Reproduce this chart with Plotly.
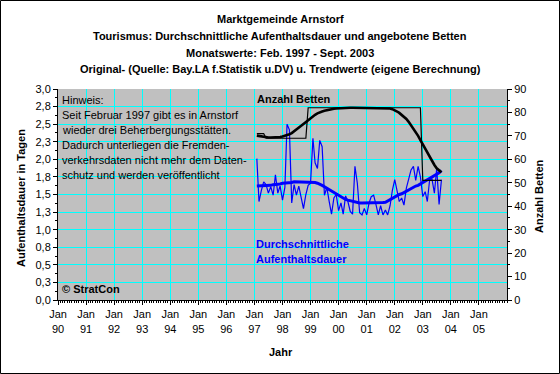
import pandas as pd
import plotly.graph_objects as go

# ---- data (monthly, Feb 1997 .. Sep 2003) ----
months = pd.date_range("1997-02-01", "2003-09-01", freq="MS")
year_ticks = pd.date_range("1990-01-01", "2005-01-01", freq="YS")

dauer_original = [
    2.01, 1.40, 1.56, 1.68, 1.64, 1.52, 1.61, 1.49, 1.78, 1.52,
    1.62, 1.42, 1.60, 2.50, 2.42, 1.38, 1.64, 1.49, 1.62, 1.45,
    1.30, 1.50, 1.63, 1.66, 2.30, 1.95, 1.87, 2.27, 2.18, 1.49,
    1.60, 1.40, 1.22, 1.45, 1.50, 1.27, 1.38, 1.22, 1.48, 1.40,
    1.26, 1.22, 1.90, 1.66, 1.24, 1.21, 1.30, 1.21, 1.38, 1.47,
    1.49, 1.36, 1.21, 1.34, 1.21, 1.28, 1.21, 1.34, 1.56, 1.71,
    1.56, 1.40, 1.45, 1.35, 1.59, 1.72, 1.85, 1.90, 1.70, 1.90,
    1.75, 1.47, 1.54, 1.40, 1.72, 1.72, 1.52, 1.87, 1.36, 1.71,
]
dauer_trend = [
    1.62, 1.62, 1.62, 1.62, 1.63, 1.63, 1.63, 1.64, 1.64, 1.65,
    1.65, 1.66, 1.66, 1.67, 1.67, 1.67, 1.68, 1.68, 1.68, 1.68,
    1.68, 1.68, 1.68, 1.68, 1.67, 1.67, 1.66, 1.65, 1.63, 1.61,
    1.59, 1.57, 1.55, 1.52, 1.50, 1.48, 1.46, 1.44, 1.43, 1.42,
    1.41, 1.40, 1.39, 1.39, 1.38, 1.38, 1.38, 1.38, 1.375, 1.375,
    1.375, 1.375, 1.375, 1.38, 1.385, 1.39, 1.41, 1.43, 1.45, 1.47,
    1.48, 1.50, 1.51, 1.53, 1.54, 1.56, 1.58, 1.60, 1.62, 1.63,
    1.65, 1.67, 1.69, 1.71, 1.72, 1.74, 1.76, 1.78, 1.81, 1.84,
]
betten_original = (
    [71] * 4 + [69] * 18 + [82] * 49 + [51] * 9
)
betten_trend = [
    70.1, 69.9, 69.7, 69.5, 69.4, 69.3, 69.3, 69.3, 69.3, 69.4,
    69.5, 69.7, 70.0, 70.3, 70.7, 71.2, 71.9, 72.7, 73.5, 74.3,
    75.1, 75.9, 76.8, 77.7, 78.4, 79.0, 79.6, 80.1, 80.4, 80.7,
    81.0, 81.2, 81.4, 81.6, 81.7, 81.8, 81.9, 82.0, 82.0, 82.0,
    82.0, 82.0, 82.0, 82.0, 82.0, 82.0, 82.0, 82.0, 82.0, 82.0,
    82.0, 82.0, 82.0, 82.0, 82.0, 82.0, 81.9, 81.7, 81.4, 81.0,
    80.4, 79.8, 79.0, 78.1, 77.2, 76.0, 74.6, 73.0, 71.4, 70.0,
    68.2, 66.4, 64.6, 62.8, 60.8, 59.0, 57.6, 56.2, 55.3, 54.5,
]

title_lines = [
    "Marktgemeinde Arnstorf",
    "Tourismus: Durchschnittliche Aufenthaltsdauer und angebotene Betten",
    "Monatswerte: Feb. 1997 - Sept. 2003",
    "Original- (Quelle: Bay.LA f.Statistik u.DV) u. Trendwerte (eigene Berechnung)",
]
hinweis_lines = [
    "Hinweis:",
    "Seit Februar 1997 gibt es in Arnstorf",
    "wieder drei Beherbergungsstätten.",
    "Dadurch unterliegen die Fremden-",
    "verkehrsdaten nicht mehr dem Daten-",
    "schutz und werden veröffentlicht",
]

FONT = "Liberation Sans, Arial, sans-serif"
W, H = 560, 374
L, R, T, B = 58, 507, 89, 300  # plot area in pixels


def px(x):
    return (x - L) / (R - L)


def py(y):
    return (B - y) / (B - T)


fig = go.Figure()
fig.add_trace(go.Scatter(x=months, y=dauer_original, mode="lines",
                         line=dict(color="#0000FF", width=1.2), yaxis="y"))
fig.add_trace(go.Scatter(x=months, y=dauer_trend, mode="lines",
                         line=dict(color="#0000FF", width=3), yaxis="y"))
fig.add_trace(go.Scatter(x=months, y=betten_original, mode="lines",
                         line=dict(color="#000000", width=1.2), yaxis="y2"))
fig.add_trace(go.Scatter(x=months, y=betten_trend, mode="lines",
                         line=dict(color="#000000", width=2.6), yaxis="y2"))

annotations = []
for i, t in enumerate(title_lines):
    annotations.append(dict(text="<b>%s</b>" % t, x=px(280), y=py(19 + i * 16.8),
                            xref="paper", yref="paper", showarrow=False,
                            xanchor="center", yanchor="middle",
                            font=dict(family=FONT, size=11, color="black")))
for i, t in enumerate(hinweis_lines):
    annotations.append(dict(text=t, x=px(60), y=py(99.5 + i * 15),
                            xref="paper", yref="paper", showarrow=False,
                            xanchor="left", yanchor="middle",
                            font=dict(family=FONT, size=11, color="black")))
annotations += [
    dict(text="<b>Anzahl Betten</b>", x=px(255), y=py(99), xanchor="left"),
    dict(text="<b>Durchschnittliche</b>", x=px(254), y=py(244), xanchor="left",
         font=dict(family=FONT, size=11, color="#0000FF")),
    dict(text="<b>Aufenthaltsdauer</b>", x=px(254), y=py(259), xanchor="left",
         font=dict(family=FONT, size=11, color="#0000FF")),
    dict(text="<b>© StratCon</b>", x=px(60), y=py(289), xanchor="left"),
    dict(text="<b>Aufenthaltsdauer in Tagen</b>", x=px(21), y=py(198),
         xanchor="center", textangle=-90),
    dict(text="<b>Anzahl Betten</b>", x=px(539), y=py(196),
         xanchor="center", textangle=-90),
    dict(text="<b>Jahr</b>", x=px(281), y=py(352), xanchor="center"),
]
for a in annotations:
    a.setdefault("xref", "paper")
    a.setdefault("yref", "paper")
    a.setdefault("showarrow", False)
    a.setdefault("yanchor", "middle")
    a.setdefault("font", dict(family=FONT, size=11, color="black"))

shapes = [dict(type="rect", xref="paper", yref="paper",
               x0=px(0.5), x1=px(W - 0.5), y0=py(0.5), y1=py(H - 0.5),
               line=dict(color="black", width=1), fillcolor="rgba(0,0,0,0)",
               layer="above")]

fig.update_layout(
    width=W, height=H,
    margin=dict(l=L, r=W - R, t=T, b=H - B, pad=0),
    paper_bgcolor="white", plot_bgcolor="#C0C0C0",
    showlegend=False,
    separators=",.",
    font=dict(family=FONT, size=11, color="black"),
    annotations=annotations,
    shapes=shapes,
    xaxis=dict(type="date", range=["1990-01-01", "2006-01-01"],
               tickmode="array", tickvals=list(year_ticks), tickformat="%b<br>%y",
               showgrid=True, gridcolor="#00FFFF", gridwidth=1,
               showline=True, linecolor="black", linewidth=1,
               ticks="outside", ticklen=4, tickcolor="black",
               minor=dict(tickmode="linear", tick0="1990-01-01", dtick="M1",
                          ticks="outside", ticklen=2, tickcolor="black",
                          showgrid=False),
               zeroline=False, fixedrange=True,
               tickfont=dict(family=FONT, size=11)),
    yaxis=dict(range=[0, 3], dtick=0.25, tick0=0, tickformat=".1f",
               showgrid=True, gridcolor="#00FFFF", gridwidth=1,
               showline=True, linecolor="black", linewidth=1,
               ticks="outside", ticklen=4, tickcolor="black",
               minor=dict(dtick=0.125, ticks="outside", ticklen=2, tickcolor="black",
                          showgrid=False),
               zeroline=False, tickfont=dict(family=FONT, size=11)),
    yaxis2=dict(range=[0, 90], dtick=10, tick0=0, overlaying="y", side="right",
                showgrid=False, showline=True, linecolor="black", linewidth=1,
                ticks="outside", ticklen=4, tickcolor="black",
                minor=dict(dtick=5, ticks="outside", ticklen=2, tickcolor="black"),
                zeroline=False, tickfont=dict(family=FONT, size=11)),
)

fig.write_html("out.html", config={"displayModeBar": False},
               post_script="document.body.style.margin='0';document.body.style.padding='0';")
